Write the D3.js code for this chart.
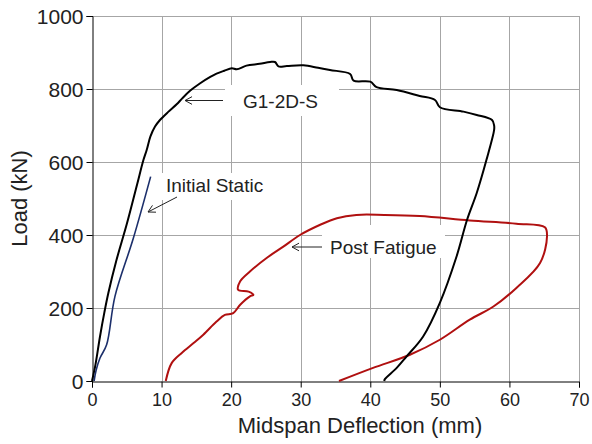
<!DOCTYPE html>
<html>
<head>
<meta charset="utf-8">
<script src="https://cdn.jsdelivr.net/npm/d3@7"></script>
<style>
    body { margin: 0; background: #fff; }
    text { font-family: "Liberation Sans", Arial, sans-serif; fill: #222; }
</style>
</head>
<body>
<svg id="chart"></svg>
<script>
// Load-deflection data: [deflection (mm), load (kN)]
const g12dsCurve = [
    [0, 0], [0.5, 45], [1.15, 122], [1.8, 190], [2.35, 241], [3.5, 330], [5, 430],
    [6.5, 540], [7.4, 606], [7.86, 633], [8.4, 670], [9.06, 697], [9.77, 715],
    [11, 738], [12.17, 758], [13, 775], [14.09, 795], [15.5, 815], [17, 833],
    [17.9, 842], [19, 850], [20.1, 857], [20.8, 854], [22.2, 864], [24.1, 869],
    [25.6, 874], [26.3, 874], [26.8, 862], [28, 863], [30.4, 865], [32.5, 858],
    [34.2, 852], [37.1, 841], [37.6, 823], [40, 820], [40.9, 805], [43.8, 797],
    [47.1, 781], [49.3, 770], [50, 750], [53.4, 738], [55.3, 729], [57.5, 715],
    [57.8, 700], [57.8, 688], [56.7, 606], [55.3, 515], [53.9, 441], [52.4, 341],
    [50, 214], [47.6, 122], [45.2, 67], [43.8, 36], [42.1, 5], [42, 0]
];
const initialStatic = [
    [0.3, 0], [0.6, 30], [1.15, 63], [2.1, 99], [3.3, 232], [5.94, 391], [8.43, 560]
];
const postFatigue = [
    [10.6, 0], [11.45, 49], [12.9, 77], [14.6, 104], [16, 127], [17.9, 163],
    [19.1, 181], [20.3, 186], [21.3, 209], [22.7, 232], [23.2, 236], [22.5, 245],
    [21, 250], [21.3, 273], [22.7, 300], [25.1, 337], [27.5, 368], [29.9, 400],
    [32.8, 428], [35.2, 446], [38, 455], [42, 455], [47.1, 452], [54.3, 440],
    [61, 431], [65.1, 421], [65.4, 396], [64.4, 323], [61, 255], [57.7, 204],
    [54.3, 168], [50, 113], [45.7, 72], [40.4, 36], [35.5, 0]
];
const xTicks = [0, 10, 20, 30, 40, 50, 60, 70];
const yTicks = [0, 200, 400, 600, 800, 1000];

(() => {

    // Set dimensions
    const width = 592;
    const height = 444;
    const margin = { top: 16, right: 13, bottom: 63, left: 92 };

    const svg = d3.select("#chart")
        .attr("width", width)
        .attr("height", height);

    // Scales
    const x = d3.scaleLinear().domain([0, 70]).range([margin.left, width - margin.right]);
    const y = d3.scaleLinear().domain([0, 1000]).range([height - margin.bottom, margin.top]);

    // Grid lines
    const grid = svg.append("g").attr("stroke", "#a6a6a6").attr("stroke-width", 1);
    grid.selectAll(".vg")
        .data(xTicks.slice(1))
        .join("line")
        .attr("x1", d => Math.round(x(d)) + 0.5).attr("x2", d => Math.round(x(d)) + 0.5)
        .attr("y1", y(1000)).attr("y2", y(0));
    grid.selectAll(".hg")
        .data(yTicks.slice(1))
        .join("line")
        .attr("y1", d => Math.round(y(d)) + 0.5).attr("y2", d => Math.round(y(d)) + 0.5)
        .attr("x1", x(0)).attr("x2", x(70));

    // Axes
    const xAxis = svg.append("g")
        .attr("transform", `translate(0,${Math.round(y(0)) + 0.5})`)
        .call(d3.axisBottom(x).tickValues(xTicks).tickSize(6).tickPadding(6));
    const yAxis = svg.append("g")
        .attr("transform", `translate(${Math.round(x(0)) + 0.5},0)`)
        .call(d3.axisLeft(y).tickValues(yTicks).tickFormat(d3.format("d")).tickSize(6).tickPadding(3));
    [xAxis, yAxis].forEach(a => {
        a.select(".domain").attr("stroke", "#000");
        a.selectAll(".tick line").attr("stroke", "#000");
        a.selectAll("text").attr("fill", "#222").attr("font-family", "Liberation Sans, Arial, sans-serif");
    });
    xAxis.selectAll("text").attr("font-size", 18);
    yAxis.selectAll("text").attr("font-size", 21).attr("dy", "0.34em");

    // Axis titles
    svg.append("text")
        .attr("x", 360).attr("y", 433)
        .attr("text-anchor", "middle")
        .attr("font-size", 22)
        .text("Midspan Deflection (mm)");
    svg.append("text")
        .attr("transform", `translate(27,${(y(0) + y(1000)) / 2}) rotate(-90)`)
        .attr("text-anchor", "middle")
        .attr("font-size", 22)
        .text("Load (kN)");

    // White label boxes hide the grid behind the annotations
    const boxes = [[225, 85, 114, 31], [155, 173, 117, 27], [322, 225, 123, 33]];
    svg.selectAll(".box")
        .data(boxes)
        .join("rect")
        .attr("x", d => d[0]).attr("y", d => d[1])
        .attr("width", d => d[2]).attr("height", d => d[3])
        .attr("fill", "#fff");

    // Curves
    const line = d3.line()
        .x(d => x(d[0])).y(d => y(d[1]))
        .curve(d3.curveCatmullRom.alpha(0.5));
    const series = [
        { data: postFatigue, color: "#b01010", w: 2 },
        { data: g12dsCurve, color: "#000", w: 2 },
        { data: initialStatic, color: "#1c2f6b", w: 1.6 }
    ];
    svg.selectAll(".curve")
        .data(series)
        .join("path")
        .attr("d", d => line(d.data))
        .attr("fill", "none")
        .attr("stroke", d => d.color)
        .attr("stroke-width", d => d.w)
        .attr("stroke-linejoin", "round");

    // Annotations: text and open arrow
    function arrow(x1, y1, x2, y2) {
        const a = Math.atan2(y2 - y1, x2 - x1);
        const len = 8, spread = 0.5;
        const p = d3.path();
        p.moveTo(x1, y1); p.lineTo(x2, y2);
        p.moveTo(x2 - len * Math.cos(a - spread), y2 - len * Math.sin(a - spread));
        p.lineTo(x2, y2);
        p.lineTo(x2 - len * Math.cos(a + spread), y2 - len * Math.sin(a + spread));
        svg.append("path").attr("d", p.toString())
            .attr("fill", "none").attr("stroke", "#222").attr("stroke-width", 1);
    }
    const notes = [
        { text: "G1-2D-S", tx: 243, ty: 108, a: [223, 100.5, 185, 100.5] },
        { text: "Initial Static", tx: 166, ty: 192, a: [177, 197, 148, 212] },
        { text: "Post Fatigue", tx: 330, ty: 254, a: [322, 247, 292, 247] }
    ];
    notes.forEach(n => {
        svg.append("text")
            .attr("x", n.tx).attr("y", n.ty)
            .attr("font-size", 19)
            .text(n.text);
        arrow(...n.a);
    });
})();
</script>
</body>
</html>
